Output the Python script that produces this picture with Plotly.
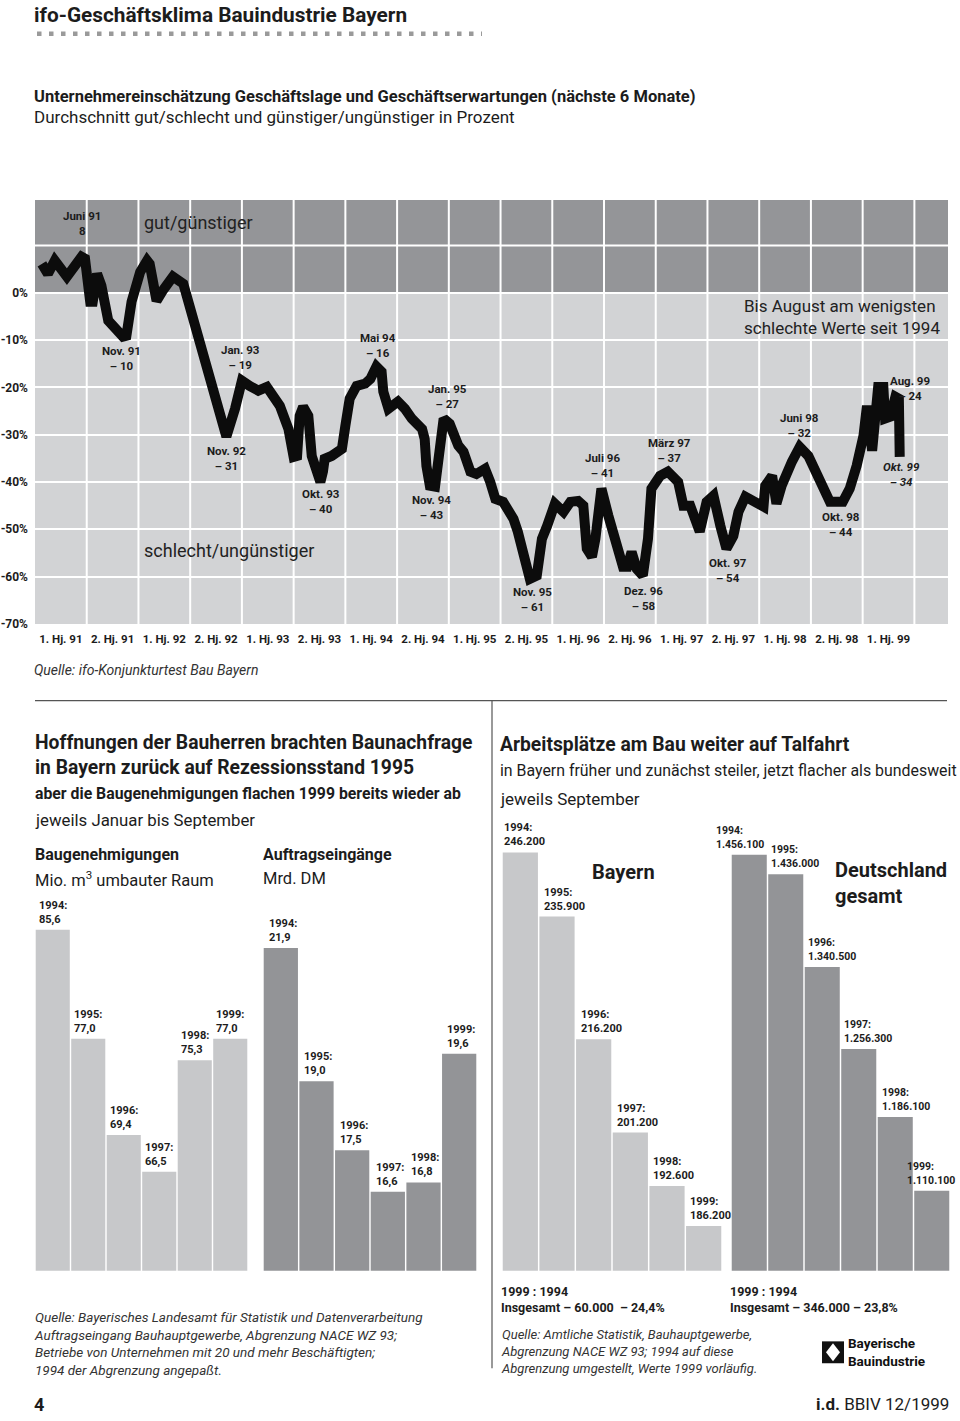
import plotly.graph_objects as go

W, H = 960, 1421


def fx(x):
    return x / W


def fy(y):
    return 1 - y / H


# ---------------- DATA ----------------
# ifo business climate (months since Jan 1991, value in %)
climate_month = [0.8, 1.5, 2.3, 3.1, 3.7, 5.4, 5.8, 6.4, 6.7, 7.2, 7.7, 8.5, 9.5, 10.2, 10.6,
                 11.2, 12.2, 13.0, 13.3, 14.1, 14.8, 16.0, 17.2, 18.0, 19.1, 20.6, 22.2, 23.2,
                 24.0, 24.9, 25.9, 26.9, 28.0, 28.4, 29.4, 30.0, 30.4, 30.7, 31.1, 31.7, 32.1,
                 32.7, 33.1, 33.4, 33.6, 34.4, 35.6, 36.0, 36.5, 37.3, 38.3, 38.9, 39.6, 40.2,
                 40.4, 41.0, 41.6, 42.1, 42.9, 43.7, 44.9, 45.2, 45.4, 45.8, 46.4, 46.8, 47.4,
                 48.1, 49.1, 49.7, 50.5, 51.2, 52.2, 52.8, 53.4, 54.3, 55.5, 56.0, 56.6, 57.4,
                 58.2, 58.8, 59.4, 60.3, 61.3, 62.1, 63.0, 63.6, 64.0, 64.6, 65.0, 65.7, 66.5,
                 67.3, 68.2, 68.7, 69.2, 69.8, 70.5, 71.1, 71.5, 72.5, 73.4, 74.6, 74.8, 75.2,
                 76.0, 77.1, 77.9, 78.7, 79.5, 80.2, 81.0, 81.6, 82.4, 83.3, 84.5, 84.7, 85.5,
                 86.0, 86.6, 87.8, 88.7, 89.7, 91.1, 92.2, 93.7, 94.5, 95.3, 96.1, 96.5, 97.1,
                 97.8, 98.4, 98.6, 99.2, 99.8, 100.2, 100.3]
climate_value = [6.1, 4.0, 6.8, 5.1, 3.4, 7.6, 7.2, -1.9, -1.9, 4.0, 1.5, -5.9, -8.2, -9.3, -9.1,
                 -1.9, 4.4, 6.8, 6.1, -1.7, 0.4, 3.4, 1.9, -3.4, -11.2, -20.3, -30.4, -24.5,
                 -18.6, -19.7, -20.7, -19.9, -23.0, -23.9, -28.8, -34.7, -34.5, -26.0, -24.1,
                 -26.0, -34.5, -37.8, -40.0, -37.8, -35.1, -34.5, -33.0, -28.1, -22.4, -19.7,
                 -19.2, -18.2, -15.6, -16.7, -20.9, -24.5, -23.9, -23.0, -24.5, -26.6, -28.8,
                 -30.9, -36.6, -40.8, -41.0, -33.0, -26.6, -27.7, -32.3, -33.6, -37.8, -38.3,
                 -37.2, -40.0, -43.6, -44.2, -47.8, -50.5, -55.6, -60.5, -59.8, -52.0, -49.3,
                 -44.6, -46.3, -44.2, -44.0, -45.0, -54.1, -55.8, -52.0, -41.4, -47.1, -52.0,
                 -57.9, -57.9, -54.8, -58.4, -59.8, -52.0, -41.4, -38.7, -37.8, -40.0, -42.1,
                 -45.0, -45.0, -50.5, -44.2, -42.9, -49.3, -54.1, -51.4, -46.3, -43.1, -44.0,
                 -45.2, -40.8, -38.7, -44.6, -40.8, -35.7, -32.6, -34.5, -39.3, -44.2, -44.2,
                 -41.4, -36.6, -30.2, -23.9, -33.4, -19.9, -19.9, -26.6, -26.2, -22.0, -22.4,
                 -34.7]
halfyear_labels = ["1. Hj. 91", "2. Hj. 91", "1. Hj. 92", "2. Hj. 92", "1. Hj. 93", "2. Hj. 93",
                   "1. Hj. 94", "2. Hj. 94", "1. Hj. 95", "2. Hj. 95", "1. Hj. 96", "2. Hj. 96",
                   "1. Hj. 97", "2. Hj. 97", "1. Hj. 98", "2. Hj. 98", "1. Hj. 99"]
y_tick_values = [-70, -60, -50, -40, -30, -20, -10, 0]
y_tick_labels = ["-70%", "-60%", "-50%", "-40%", "-30%", "-20%", "-10%", "0%"]
extreme_labels = ["Juni 91<br>8", "Nov. 91<br>– 10", "Jan. 93<br>– 19", "Nov. 92<br>– 31",
                  "Okt. 93<br>– 40", "Mai 94<br>– 16", "Jan. 95<br>– 27", "Nov. 94<br>– 43",
                  "Nov. 95<br>– 61", "Juli 96<br>– 41", "Dez. 96<br>– 58", "März 97<br>– 37",
                  "Okt. 97<br>– 54", "Juni 98<br>– 32", "Okt. 98<br>– 44", "Aug. 99<br>– 24",
                  "Okt. 99<br>– 34"]

years = ["1994", "1995", "1996", "1997", "1998", "1999"]
permits = [85.6, 77.0, 69.4, 66.5, 75.3, 77.0]           # Mio. m3 umbauter Raum
orders = [21.9, 19.0, 17.5, 16.6, 16.8, 19.6]            # Mrd. DM
jobs_bavaria = [246200, 235900, 216200, 201200, 192600, 186200]
jobs_germany = [1456100, 1436000, 1340500, 1256300, 1186100, 1110100]

# ---------------- STYLE ----------------
COND = "Roboto, Liberation Sans, sans-serif"
HUM = "Roboto, Lato, sans-serif"
TXT = "#1c1c1c"
DARK = "#949598"
LIGHT = "#d2d3d5"
BAR_LIGHT = "#c7c8ca"
BAR_DARK = "#939497"

fig = go.Figure()


def T(x, y, text, size, fam=HUM, weight="normal", style="normal", xanchor="left",
      yanchor="middle", color=TXT, align="left"):
    shift = {"left": -3, "right": 3, "center": 0}[xanchor]
    fig.add_annotation(x=fx(x), y=fy(y), xref="paper", yref="paper", text=text,
                       showarrow=False, xanchor=xanchor, yanchor=yanchor, align=align,
                       xshift=shift,
                       font=dict(family=fam, size=size, color=color, weight=weight, style=style))


# ---------------- TOP LINE CHART ----------------
X_MAX = 105.9
Y_MIN, Y_MAX = -70, 19.6
fig.add_trace(go.Scatter(x=climate_month, y=climate_value, mode="lines",
                         line=dict(color="#0c0c0c", width=10), xaxis="x", yaxis="y",
                         hoverinfo="skip"))

fig.add_shape(type="rect", xref="x", yref="y", x0=0, x1=X_MAX, y0=0, y1=Y_MAX,
              fillcolor=DARK, line_width=0, layer="below")
fig.add_shape(type="rect", xref="x", yref="y", x0=0, x1=X_MAX, y0=Y_MIN, y1=0,
              fillcolor=LIGHT, line_width=0, layer="below")
for k in range(1, 18):
    fig.add_shape(type="line", xref="x", yref="y", x0=6 * k, x1=6 * k, y0=Y_MIN, y1=Y_MAX,
                  line=dict(color="white", width=2), layer="below")
fig.add_shape(type="line", xref="x", yref="y", x0=0, x1=X_MAX, y0=10, y1=10,
              line=dict(color="white", width=2), layer="below")

peak_pos = [(82, 225), (121, 360), (240, 359), (226, 461), (321, 504), (378, 347), (447, 398),
            (431, 510), (532, 602), (602, 468), (643, 601), (669, 453), (728, 573), (799, 428),
            (841, 527), (910, 390), (901, 477)]
for lab, (px, py) in zip(extreme_labels, peak_pos):
    T(px, py, lab, 11.5, fam=COND, weight="bold", xanchor="center", align="center",
      style="italic" if lab.startswith("Okt. 99") else "normal")

T(145, 224, "gut/günstiger", 18, color="#222")
T(145, 553, "schlecht/ungünstiger", 18, color="#222")
T(745, 319, "Bis August am wenigsten<br>schlechte Werte seit 1994", 17, color="#222")
T(35, 673, "Quelle: ifo-Konjunkturtest Bau Bayern", 14, style="italic", color="#333")

# ---------------- HEADER ----------------
T(35, 15, "ifo-Geschäftsklima Bauindustrie Bayern", 20.8, weight="bold")
fig.add_shape(type="line", xref="paper", yref="paper", x0=fx(37), x1=fx(482), y0=fy(34),
              y1=fy(34), line=dict(color="#9a9a9a", width=4.5, dash="4.5px,7.5px"))
T(35, 97, "Unternehmereinschätzung Geschäftslage und Geschäftserwartungen (nächste 6 Monate)",
  16.5, weight="bold")
T(35, 118, "Durchschnitt gut/schlecht und günstiger/ungünstiger in Prozent", 17)

# ---------------- SEPARATORS ----------------
fig.add_shape(type="line", xref="paper", yref="paper", x0=fx(35), x1=fx(947), y0=fy(704),
              y1=fy(704), line=dict(color="#555", width=1.2))
fig.add_shape(type="line", xref="paper", yref="paper", x0=fx(492), x1=fx(492), y0=fy(704),
              y1=fy(1375), line=dict(color="#555", width=1.2))

# ---------------- LOWER TEXT ----------------
T(36, 759, "Hoffnungen der Bauherren brachten Baunachfrage<br>in Bayern zurück auf Rezessionsstand 1995",
  19.3, weight="bold")
T(36, 797, "aber die Baugenehmigungen flachen 1999 bereits wieder ab", 15.8, weight="bold")
T(36, 824, "jeweils Januar bis September", 16.8)
T(36, 859, "Baugenehmigungen", 16, weight="bold")
T(36, 883, "Mio. m<sup>3</sup> umbauter Raum", 16.5)
T(264, 859, "Auftragseingänge", 16, weight="bold")
T(264, 883, "Mrd. DM", 16.5)

T(501, 748, "Arbeitsplätze am Bau weiter auf Talfahrt", 19.3, weight="bold")
T(501, 774, "in Bayern früher und zunächst steiler, jetzt flacher als bundesweit", 15.9)
T(501, 803, "jeweils September", 17)
T(593, 876, "Bayern", 20, weight="bold")
T(836, 887, "Deutschland<br>gesamt", 20, weight="bold")

T(502, 1306, "1999 : 1994<br>Insgesamt – 60.000  – 24,4%", 12.5, fam=COND, weight="bold")
T(731, 1306, "1999 : 1994<br>Insgesamt – 346.000 – 23,8%", 12.5, fam=COND, weight="bold")

T(35, 1350, "Quelle: Bayerisches Landesamt für Statistik und Datenverarbeitung<br>"
            "Auftragseingang Bauhauptgewerbe, Abgrenzung NACE WZ 93;<br>"
            "Betriebe von Unternehmen mit 20 und mehr Beschäftigten;<br>"
            "1994 der Abgrenzung angepaßt.", 13.5, fam=HUM, style="italic", color="#333")
T(502, 1358, "Quelle: Amtliche Statistik, Bauhauptgewerbe,<br>"
             "Abgrenzung NACE WZ 93; 1994 auf diese<br>"
             "Abgrenzung umgestellt, Werte 1999 vorläufig.", 13, fam=HUM, style="italic",
  color="#333")

# logo
fig.add_shape(type="rect", xref="paper", yref="paper", x0=fx(822), x1=fx(844), y0=fy(1370),
              y1=fy(1348), fillcolor="#111", line_width=0)
fig.add_shape(type="path", xref="paper", yref="paper",
              path=f"M {fx(833)} {fy(1350)} L {fx(840)} {fy(1359)} L {fx(833)} {fy(1368)} "
                   f"L {fx(826)} {fy(1359)} Z",
              fillcolor="white", line_width=0)
T(849, 1359, "Bayerische<br>Bauindustrie", 13.5, fam=COND, weight="bold", color="#111")

T(35, 1411, "4", 18, weight="bold")
T(948, 1411, "<b>i.d.</b> BBIV 12/1999", 17, xanchor="right")

# ---------------- BAR CHARTS ----------------
BASE_PX = 1277


def fmt_dec(v):
    return f"{v:.1f}".replace(".", ",")


def fmt_int(v):
    return f"{v:,.0f}".replace(",", ".")


# (axis id, x0 px, x1 px, top px, base value, px per unit, values, colour, formatter, xshifts, size)
bar_specs = [
    ("2", 35, 248, 905, 58.7, 12.74, permits, BAR_LIGHT, fmt_dec, [1] * 6, 11),
    ("3", 263, 477, 905, 14.88, 46.2, orders, BAR_DARK, fmt_dec, [3] * 6, 11),
    ("4", 502, 722, 850, 179000, 0.006255, jobs_bavaria, BAR_LIGHT, fmt_int,
     [-1, 3, 3, 2, 2, 2], 11),
    ("5", 731, 950, 850, 1027900, 0.000976, jobs_germany, BAR_DARK, fmt_int,
     [-18, 1, 1, 1, 2, -9], 10.5),
]

layout_axes = {}
for ax, x0, x1, top, base, ppu, vals, col, fmt, xsh, fsize in bar_specs:
    fig.add_trace(go.Bar(x=list(range(len(years))), y=vals, marker=dict(color=col, line_width=0),
                         xaxis="x" + ax, yaxis="y" + ax, hoverinfo="skip"))
    layout_axes["xaxis" + ax] = dict(domain=[fx(x0), fx(x1)], range=[-0.5, 5.5],
                                     showticklabels=False, showgrid=False, zeroline=False,
                                     showline=False, ticks="", anchor="y" + ax)
    layout_axes["yaxis" + ax] = dict(domain=[fy(BASE_PX), fy(top)],
                                     range=[base, base + (BASE_PX - top) / ppu],
                                     showticklabels=False, showgrid=False, zeroline=False,
                                     showline=False, ticks="", anchor="x" + ax)
    for i, (yr, v) in enumerate(zip(years, vals)):
        fig.add_annotation(xref="x" + ax, yref="y" + ax, x=i - 0.48, y=v,
                           text=f"{yr}:<br>{fmt(v)}", showarrow=False, xanchor="left",
                           yanchor="bottom", align="left", xshift=xsh[i], yshift=2,
                           font=dict(family=COND, size=fsize, color=TXT, weight="bold"))

fig.update_layout(
    width=W, height=H, margin=dict(l=0, r=0, t=0, b=0),
    paper_bgcolor="white", plot_bgcolor="rgba(0,0,0,0)", showlegend=False,
    bargap=0.04,
    xaxis=dict(domain=[fx(35), fx(948)], range=[0, X_MAX], tickmode="array",
               tickvals=[3 + 6 * k for k in range(len(halfyear_labels))],
               ticktext=halfyear_labels, tickangle=0, showgrid=False, zeroline=False,
               showline=False, ticks="", ticklabelstandoff=7,
               tickfont=dict(family=COND, size=11.5, color=TXT, weight="bold"), anchor="y"),
    yaxis=dict(domain=[fy(627), fy(201)], range=[Y_MIN, Y_MAX], tickmode="array",
               tickvals=y_tick_values, ticktext=y_tick_labels, showgrid=True,
               gridcolor="white", gridwidth=2, zeroline=False, showline=False, ticks="",
               ticklabelstandoff=6,
               tickfont=dict(family=COND, size=12, color=TXT, weight="bold"), anchor="x"),
    **layout_axes,
)

fig.write_html("out.html")
